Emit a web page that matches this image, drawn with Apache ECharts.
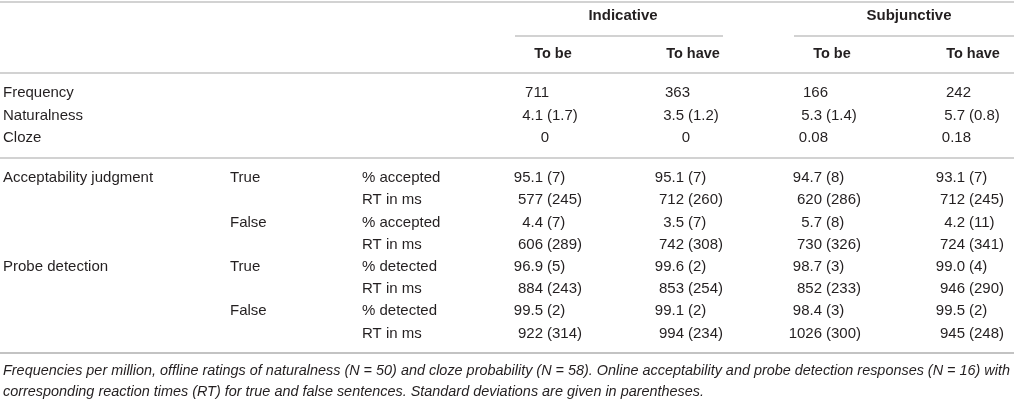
<!DOCTYPE html>
<html>
<head>
<meta charset="utf-8">
<script src="https://cdn.jsdelivr.net/npm/echarts@6/dist/echarts.min.js"></script>
<style>
  html, body { margin: 0; padding: 0; background: #fff; }
  #table { width: 1014px; height: 406px; }
</style>
</head>
<body>
<div id="table"></div>
<script>
// column headers
const moods = ['Indicative', 'Subjunctive'];
const verbs = ['To be', 'To have', 'To be', 'To have'];

// offline measures
const offlineLabels = ['Frequency', 'Naturalness', 'Cloze'];
const frequency = ['711', '363', '166', '242'];
const naturalness = ['4.1 (1.7)', '3.5 (1.2)', '5.3 (1.4)', '5.7 (0.8)'];
const cloze = ['0', '0', '0.08', '0.18'];

// online tasks
const tasks = ['Acceptability judgment', 'Probe detection'];
const truthLabels = ['True', 'False'];
const acceptMeasures = ['% accepted', 'RT in ms'];
const probeMeasures = ['% detected', 'RT in ms'];
const acceptTruePct = ['95.1 (7)', '95.1 (7)', '94.7 (8)', '93.1 (7)'];
const acceptTrueRt = ['577 (245)', '712 (260)', '620 (286)', '712 (245)'];
const acceptFalsePct = ['4.4 (7)', '3.5 (7)', '5.7 (8)', '4.2 (11)'];
const acceptFalseRt = ['606 (289)', '742 (308)', '730 (326)', '724 (341)'];
const probeTruePct = ['96.9 (5)', '99.6 (2)', '98.7 (3)', '99.0 (4)'];
const probeTrueRt = ['884 (243)', '853 (254)', '852 (233)', '946 (290)'];
const probeFalsePct = ['99.5 (2)', '99.1 (2)', '98.4 (3)', '99.5 (2)'];
const probeFalseRt = ['922 (314)', '994 (234)', '1026 (300)', '945 (248)'];

const captionLines = [
    'Frequencies per million, offline ratings of naturalness (N = 50) and cloze probability (N = 58). Online acceptability and probe detection responses (N = 16) with',
    'corresponding reaction times (RT) for true and false sentences. Standard deviations are given in parentheses.'
];

// layout
const W = 1014;
const txtColor = '#231f20';
const ruleColor = '#c3c3c3';
const font = '"Liberation Sans", Arial, sans-serif';
const labelX = [3, 230, 362];
const numAnchor = [543, 684, 822, 965]; // right edge of the number before the bracket
const moodCenter = [623, 909];
const moodRule = [[515, 723], [794, W]];
const verbCenter = [553, 693, 832, 973];

let myChart = echarts.init(document.getElementById('table'), null, { renderer: 'canvas' });
let elements = [];

function txt(x, y, s, opt) {
    opt = opt || {};
    elements.push({
        type: 'text',
        x: x,
        y: y,
        scaleX: opt.scaleX || 1,
        style: {
            text: s,
            fill: txtColor,
            font: (opt.italic ? 'italic ' : '') + (opt.bold ? 'bold ' : '') + (opt.size || 15) + 'px ' + font,
            textAlign: opt.align || 'left',
            textVerticalAlign: 'middle',
        },
    });
}

function rule(x1, x2, y, w) {
    elements.push({
        type: 'line',
        shape: { x1: x1, y1: y, x2: x2, y2: y },
        style: { stroke: ruleColor, lineWidth: w || 1.5 },
    });
}

// a cell like "95.1 (7)": number right-aligned on the anchor, bracket after it
function cell(col, y, s) {
    let i = s.indexOf(' (');
    if (i < 0) {
        txt(numAnchor[col] + 6, y, s, { align: 'right' });
    } else {
        txt(numAnchor[col], y, s.slice(0, i), { align: 'right' });
        txt(numAnchor[col] + 4, y, s.slice(i + 1), { align: 'left' });
    }
}

// header
rule(0, W, 2);
moods.forEach(function(m, i) {
    txt(moodCenter[i], 16, m, { bold: true, size: 15, align: 'center' });
    rule(moodRule[i][0], moodRule[i][1], 36);
});
verbs.forEach(function(v, i) {
    txt(verbCenter[i], 54, v, { bold: true, size: 14.5, align: 'center' });
});
rule(0, W, 73);

// offline block
let offline = [frequency, naturalness, cloze];
offline.forEach(function(row, r) {
    let y = 93 + r * 22.4;
    txt(labelX[0], y, offlineLabels[r]);
    row.forEach(function(v, c) { cell(c, y, v); });
});
rule(0, W, 158);

// online block
let online = [
    [acceptTruePct, acceptTrueRt, acceptFalsePct, acceptFalseRt],
    [probeTruePct, probeTrueRt, probeFalsePct, probeFalseRt],
];
online.forEach(function(block, t) {
    let measures = t === 0 ? acceptMeasures : probeMeasures;
    block.forEach(function(row, r) {
        let y = 178 + (t * 4 + r) * 22.2;
        if (r === 0) txt(labelX[0], y, tasks[t]);
        if (r % 2 === 0) txt(labelX[1], y, truthLabels[r / 2]);
        txt(labelX[2], y, measures[r % 2]);
        row.forEach(function(v, c) { cell(c, y, v); });
    });
});
rule(0, W, 353, 2);

// caption, squeezed to the width of the table like the original
let ctx = document.createElement('canvas').getContext('2d');
ctx.font = 'italic 14px ' + font;
let capScale = (W - 7) / ctx.measureText(captionLines[0]).width;
captionLines.forEach(function(s, i) {
    txt(3, 371 + i * 21, s, { italic: true, size: 14, scaleX: capScale });
});

myChart.setOption({
    animation: false,
    graphic: { elements: elements },
});
</script>
</body>
</html>
